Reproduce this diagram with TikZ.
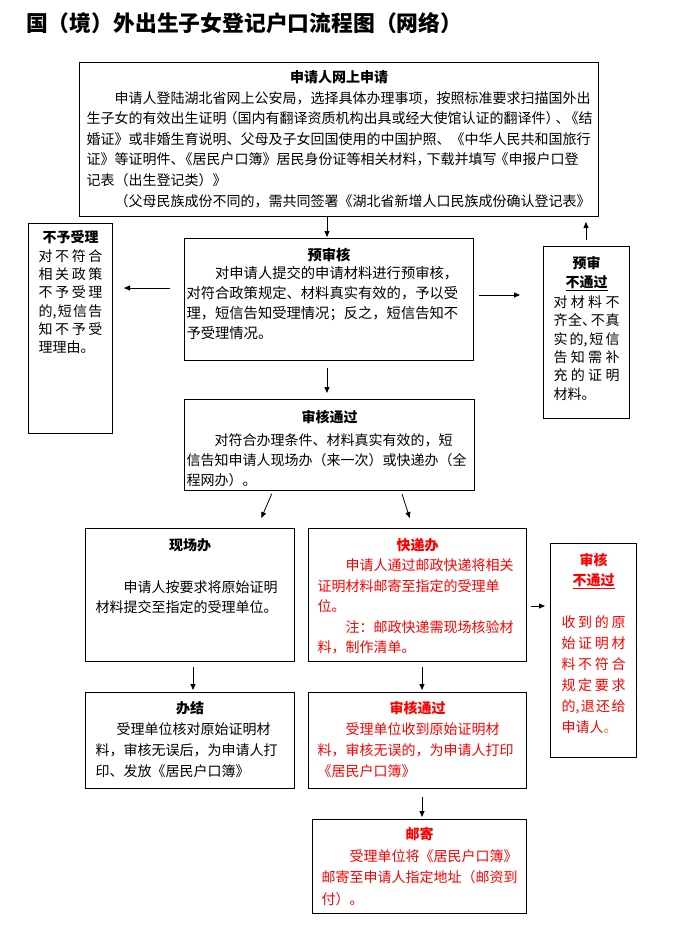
\documentclass[tikz,border=0pt]{standalone}
\usepackage{fontspec}
\setmainfont{Noto Sans CJK SC}
\usetikzlibrary{arrows.meta}
\definecolor{myred}{RGB}{255,0,0}
\definecolor{myorange}{RGB}{240,120,40}
\newcommand\bx[6]{\parbox[c][#2][t]{#1}{\fontsize{#3}{#4}\selectfont\raggedright\parindent=0pt\rule{0pt}{#5}#6}}
\newcommand\ctr[1]{\makebox[\linewidth]{\bfseries #1}}
\newcommand\spr[1]{\makebox[\linewidth][s]{#1}}
\begin{document}
\begin{tikzpicture}[x=1pt,y=-1pt,
  box/.style={draw=black, line width=1pt, inner ysep=0pt, anchor=north west},
  redtxt/.style={text=myred},
  arr/.style={-{Triangle[length=6pt,width=5pt]}, line width=0.8pt}]
\useasboundingbox (0,0) rectangle (679,926);

\node[anchor=west, inner sep=0pt, font=\fontsize{21.8}{22}\selectfont\bfseries] (title) at (26,23) {国（境）外出生子女登记户口流程图（网络）};

% top box
\node[box, inner xsep=7pt] (top) at (79,62) {\bx{505pt}{154pt}{14}{20.6}{20pt}{%
\ctr{申请人网上申请}\\
\hspace*{2em}申请人登陆湖北省网上公安局，选择具体办理事项，按照标准要求扫描国外出\\
生子女的有效出生证明\kern-3pt（国内有翻译资质机构出具或经大使馆认证的翻译件）\kern-4pt、\kern-5pt《结\\
婚证》或非婚生育说明、父母及子女回国使用的中国护照、《中华人民共和国旅行\\
证》等证明件、\kern-6pt《居民户口簿》\kern-3pt\ 居民身份证等相关材料，\kern-4pt下载并填写\kern-2pt《申报户口登\\
记表（出生登记类）》\\
\hspace*{2em}（父母民族成份不同的，需共同签署《湖北省新增人口民族成份确认登记表》}};

% reject box
\node[box, inner xsep=10pt] (rej) at (28,223) {\bx{64pt}{210pt}{14}{18.3}{19.3pt}{%
\ctr{不予受理}\\
\spr{对\hfill 不\hfill 符\hfill 合}\\
\spr{相\hfill 关\hfill 政\hfill 策}\\
\spr{不\hfill 予\hfill 受\hfill 理}\\
\spr{的,\hfill 短\hfill 信\hfill 告}\\
\spr{知\hfill 不\hfill 予\hfill 受}\\
理理由。}};

% pre-review
\node[box, inner xsep=2pt] (pre) at (184,238) {\bx{285pt}{122pt}{14.3}{20}{21.8pt}{%
\ctr{预审核}\\[-1.5pt]
\hspace*{2em}对申请人提交的申请材料进行预审核，\\
对符合政策规定、材料真实有效的，予以受\\
理，短信告知受理情况；反之，短信告知不\\
予受理情况。}};

% pre-review not passed
\node[box, inner xsep=10pt] (npre) at (543,246) {\bx{66pt}{172pt}{14}{18.3}{22pt}{%
\ctr{预审}\\[0.7pt]
\ctr{\underline{不通过}}\\[1.7pt]
\spr{对\hfill 材\hfill 料\hfill 不}\\
\spr{齐\hfill 全、\kern-6pt\hfill 不\hfill 真}\\
\spr{实\hfill 的,\hfill 短\hfill 信}\\
\spr{告\hfill 知\hfill 需\hfill 补}\\
\spr{充\hfill 的\hfill 证\hfill 明}\\
材料。}};

% review passed
\node[box, inner xsep=2pt] (pass) at (184,399) {\bx{286pt}{91pt}{14}{20}{23.3pt}{%
\ctr{审核通过}\\[3pt]
\hspace*{2em}对符合办理条件、材料真实有效的，短\\
信告知申请人现场办（来一次）或快递办（全\\
程网办）。}};

% on site
\node[box, inner xsep=10pt] (site) at (85,528) {\bx{189pt}{133pt}{14}{20}{22.3pt}{%
\ctr{现场办}\\[22pt]
\hspace*{2em}申请人按要求将原始证明\\
材料提交至指定的受理单位。}};

% express
\node[box, inner xsep=9pt, redtxt] (expr) at (308,528) {\bx{200pt}{133pt}{14}{20.5}{22.3pt}{%
\ctr{快递办}\\[-0.5pt]
\hspace*{2em}申请人通过邮政快递将相关\\
证明材料邮寄至指定的受理单\\
位。\\
\hspace*{2em}注：邮政快递需现场核验材\\
料，制作清单。}};

% review failed
\node[box, inner xsep=11pt, redtxt] (fail) at (550,543) {\bx{64pt}{214pt}{14}{21}{22.3pt}{%
\ctr{审核}\\[-1pt]
\ctr{\underline{不通过}}\\[21pt]
\spr{收\hfill 到\hfill 的\hfill 原}\\
\spr{始\hfill 证\hfill 明\hfill 材}\\
\spr{料\hfill 不\hfill 符\hfill 合}\\
\spr{规\hfill 定\hfill 要\hfill 求}\\
\spr{的,\hfill 退\hfill 还\hfill 给}\\
申请人{\color{myorange}。}}};

% done
\node[box, inner xsep=10pt] (done) at (85,692) {\bx{189pt}{96pt}{14}{21}{21.3pt}{%
\ctr{办结}\\
\hspace*{1.5em}受理单位核对原始证明材\\
料，审核无误后，为申请人打\\
印、发放《居民户口簿》}};

% review passed (red)
\node[box, inner xsep=9pt, redtxt] (pass2) at (308,692) {\bx{200pt}{96pt}{14}{21}{21.3pt}{%
\ctr{审核通过}\\
\hspace*{2em}受理单位收到原始证明材\\
料，审核无误的，为申请人打印\\
《居民户口簿》}};

% mail
\node[box, inner xsep=9pt, redtxt] (mail) at (312,819) {\bx{196pt}{94pt}{14}{21.5}{20.3pt}{%
\ctr{邮寄}\\
\hspace*{2em}受理单位将《居民户口簿》\\
邮寄至申请人指定地址（邮资到\\
付）。}};

% helper coordinates
\coordinate (xA) at (327,0);
\coordinate (yL) at (0,288);
\coordinate (yR) at (0,295);
\coordinate (xU) at (586,0);
\coordinate (d1s) at (273,0);
\coordinate (d1e) at (257,0);
\coordinate (d2s) at (401,0);
\coordinate (d2e) at (413,0);
\coordinate (yF) at (0,606);
\coordinate (xL) at (193,0);
\coordinate (xR) at (422,0);

% connectors
\draw[arr, shorten >=1pt] (top.south -| xA) -- (pre.north -| xA);
\draw[arr, shorten <=14pt, shorten >=11pt] (pre.west |- yL) -- (rej.east |- yL);
\draw[arr, shorten <=5pt, shorten >=23pt] (pre.east |- yR) -- (npre.west |- yR);
\draw[arr, shorten <=6pt, shorten >=5pt] (npre.north -| xU) -- (top.south -| xU);
\draw[arr, shorten <=7pt, shorten >=6pt] (pre.south -| xA) -- (pass.north -| xA);
\draw[arr, shorten <=3pt, shorten >=10.8pt] (pass.south -| d1s) -- (site.north -| d1e);
\draw[arr, shorten <=3pt, shorten >=10.5pt] (pass.south -| d2s) -- (expr.north -| d2e);
\draw[arr, shorten <=4pt, shorten >=5pt] (expr.east |- yF) -- (fail.west |- yF);
\draw[arr, shorten <=5pt, shorten >=2pt] (site.south -| xL) -- (done.north -| xL);
\draw[arr, shorten <=5pt, shorten >=2pt] (expr.south -| xR) -- (pass2.north -| xR);
\draw[arr, shorten <=8pt, shorten >=2pt] (pass2.south -| xR) -- (mail.north -| xR);
\end{tikzpicture}
\end{document}
